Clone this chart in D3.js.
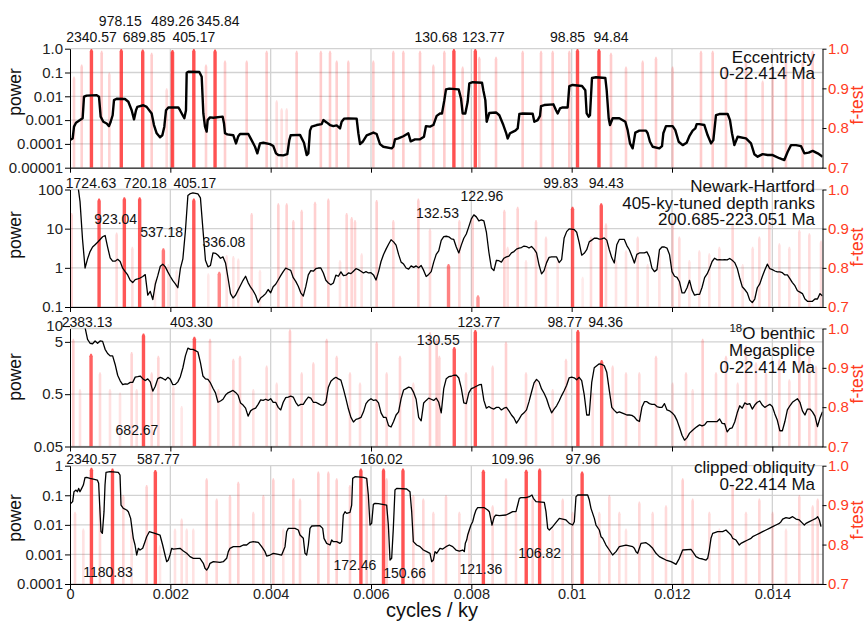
<!DOCTYPE html>
<html>
<head>
<meta charset="utf-8">
<script src="https://cdn.jsdelivr.net/npm/d3@7"></script>
<style>
  body { margin: 0; background: #fff; }
</style>
</head>
<body>
<script>
// ---- data -----------------------------------------------------------------
// frequency axis ticks (cycles / ky)
const freqTicks = [0, 0.002, 0.004, 0.006, 0.008, 0.010, 0.012, 0.014];
const freqTickLabels = ["0", "0.002", "0.004", "0.006", "0.008", "0.01", "0.012", "0.014"];
const ftestTicks = [0.7, 0.8, 0.9, 1.0];
const ftestTickLabels = ["0.7", "0.8", "0.9", "1.0"];

// power axis ticks per panel
const eccTicks = [1e-5, 1e-4, 1e-3, 0.01, 0.1, 1];
const eccTickLabels = ["0.00001", "0.0001", "0.001", "0.01", "0.1", "1.0"];
const nhTicks = [0.1, 1, 10, 100];
const nhTickLabels = ["0.1", "1", "10", "100"];
const o18Ticks = [0.05, 0.5, 5, 10];
const o18TickLabels = ["0.05", "0.5", "5", "10"];
const oblTicks = [1e-4, 1e-3, 0.01, 0.1, 1];
const oblTickLabels = ["0.0001", "0.001", "0.01", "0.1", "1"];

// Eccentricity spectrum [frequency, power]
const eccSpectrum = [
  [0,1.45e-4],[0.000053,1.7e-4],[0.00008,5.3e-4],[0.00012,7.8e-4],[0.000199,1.0e-3],[0.000252,1.2e-3],[0.000279,9.6e-3],[0.000332,1.07e-2],
  [0.000532,1.12e-2],[0.000578,9.6e-3],[0.000611,1.4e-3],[0.000664,8.5e-4],[0.000731,7.2e-4],[0.000777,5.6e-4],[0.000811,8.5e-4],[0.00085,1.6e-3],
  [0.000877,6.9e-3],[0.00093,7.9e-3],[0.001096,7.7e-3],[0.001163,5.9e-3],[0.001229,2.6e-3],[0.001276,1.07e-3],[0.001316,2.6e-3],[0.001342,3.6e-3],
  [0.001462,4.2e-3],[0.001528,3.6e-3],[0.001628,1.9e-3],[0.001674,6.2e-4],[0.001728,2.8e-4],[0.001794,1.9e-4],[0.001841,2.3e-4],[0.00188,5.3e-4],
  [0.001914,2.6e-3],[0.00196,3.4e-3],[0.002159,3.4e-3],[0.002193,2.6e-3],[0.002246,1.6e-3],[0.002279,1.2e-3],[0.002312,2.6e-3],[0.002326,9.8e-2],
  [0.002359,0.107],[0.002578,0.105],[0.002625,0.066],[0.002658,1.9e-3],[0.002691,5.3e-4],[0.002724,3.3e-4],[0.002744,1.0e-3],[0.002791,1.3e-3],
  [0.002857,1.26e-3],[0.003043,1.4e-3],[0.00307,7.2e-4],[0.00309,2.8e-4],[0.003136,2.5e-4],[0.003256,2.3e-4],[0.003309,1.05e-4],[0.003355,2.1e-4],
  [0.003389,2.6e-4],[0.003555,2.6e-4],[0.003601,1.7e-4],[0.003688,7.6e-5],[0.003734,4.0e-5],[0.003787,1.05e-4],[0.003854,1.12e-4],[0.003987,9.8e-5],
  [0.004053,8.1e-5],[0.004106,4.0e-5],[0.004153,3.4e-5],[0.004252,3.3e-5],[0.004332,3.7e-5],[0.004372,1.45e-4],[0.004399,2.3e-4],[0.004585,2.4e-4],
  [0.004664,1.12e-4],[0.004718,3.4e-5],[0.004751,4.0e-5],[0.004784,3.6e-4],[0.004817,5.3e-4],[0.004917,6.2e-4],[0.005017,6.8e-4],[0.00505,1.0e-3],
  [0.005116,8.0e-4],[0.005183,6.2e-4],[0.005249,5.6e-4],[0.005316,6.0e-4],[0.005382,4.5e-4],[0.005415,8.5e-4],[0.005462,1.15e-3],[0.005548,1.17e-3],
  [0.005714,1.15e-3],[0.005748,2.8e-4],[0.005781,9.8e-5],[0.005834,1.23e-4],[0.005914,2.3e-4],[0.006047,3.0e-4],[0.006113,2.6e-4],[0.006179,9.8e-5],
  [0.006246,7.6e-5],[0.006412,6.5e-5],[0.006445,7.6e-5],[0.006478,1.55e-4],[0.006545,1.7e-4],[0.006645,2.1e-4],[0.006744,2.8e-4],[0.006791,1.28e-4],
  [0.006877,1.55e-4],[0.006977,1.55e-4],[0.007056,2.0e-4],[0.007096,5.6e-4],[0.007176,5.3e-4],[0.007243,6.2e-4],[0.007309,1.5e-3],[0.007375,1.9e-3],
  [0.007415,1.9e-3],[0.007462,6.9e-3],[0.007495,1.95e-2],[0.007561,2.1e-2],[0.007748,1.95e-2],[0.007794,8.1e-3],[0.007827,1.9e-3],[0.00788,1.9e-3],
  [0.007927,5.9e-3],[0.00796,3.5e-2],[0.008027,3.9e-2],[0.008213,3.7e-2],[0.008239,1.8e-2],[0.008279,6.9e-3],[0.008306,8.5e-4],[0.008359,2.0e-3],
  [0.008492,2.1e-3],[0.008558,1.6e-3],[0.008638,6.2e-4],[0.008691,3.0e-4],[0.008724,1.7e-4],[0.008771,2.8e-4],[0.008837,3.3e-4],[0.008877,3.6e-4],
  [0.008924,4.5e-4],[0.008957,1.8e-3],[0.009023,1.9e-3],[0.009223,1.85e-3],[0.009256,8.5e-4],[0.009322,1.0e-3],[0.009369,1.5e-3],[0.009389,3.9e-3],
  [0.009455,4.3e-3],[0.009635,4.6e-3],[0.009688,2.6e-3],[0.009721,1.9e-3],[0.009767,3.1e-3],[0.009821,3.4e-3],[0.00992,3.4e-3],[0.009953,2.7e-2],
  [0.01002,3.0e-2],[0.010206,2.7e-2],[0.010272,1.8e-2],[0.010299,1.9e-3],[0.010339,1.4e-3],[0.010365,1.6e-3],[0.010405,5.9e-2],[0.010485,6.3e-2],
  [0.010671,5.9e-2],[0.010698,1.8e-2],[0.010738,1.2e-3],[0.010764,6.2e-4],[0.010817,1.2e-3],[0.01095,1.2e-3],[0.01107,8.5e-4],[0.011116,3.8e-4],
  [0.011163,1.05e-4],[0.011216,6.5e-5],[0.011269,3.0e-4],[0.011349,3.6e-4],[0.011482,3.6e-4],[0.011515,2.8e-4],[0.011561,1.23e-4],[0.011615,7.6e-5],
  [0.011748,6.5e-5],[0.011801,8.1e-5],[0.011827,2.8e-4],[0.01188,5.6e-4],[0.012013,5.6e-4],[0.012066,3.8e-4],[0.012133,1.23e-4],[0.012213,8.9e-5],
  [0.012292,1.12e-4],[0.012346,2.1e-4],[0.012412,3.6e-4],[0.012465,4.5e-4],[0.012492,6.8e-4],[0.012545,6.8e-4],[0.012645,6.2e-4],[0.012711,2.3e-4],
  [0.012778,1.05e-4],[0.012824,1.45e-4],[0.012877,1.6e-3],[0.012944,1.8e-3],[0.01311,1.8e-3],[0.013156,1.0e-3],[0.013196,2.8e-4],[0.013243,8.9e-5],
  [0.013309,2.0e-4],[0.013475,1.7e-4],[0.013575,1.05e-4],[0.013641,3.7e-5],[0.013708,2.9e-5],[0.013807,3.7e-5],[0.013907,3.4e-5],[0.014007,3.4e-5],
  [0.01414,2.5e-5],[0.014239,2.1e-5],[0.014306,4.7e-5],[0.014372,8.9e-5],[0.014472,8.9e-5],[0.014571,8.1e-5],[0.014638,4.0e-5],[0.014724,4.3e-5],
  [0.014804,5.1e-5],[0.014904,4.0e-5],[0.015003,2.9e-5]
];

// regular frequency grid of the Newark-Hartford and 18O spectra (cycles / ky)
const freqGrid = [
  0.00015,0.0002,0.00025,0.0003,0.00035,0.0004,0.00045,0.0005,0.00055,0.0006,
  0.00065,0.0007,0.00075,0.0008,0.00085,0.0009,0.00095,0.001,0.00105,0.0011,
  0.00115,0.0012,0.00125,0.0013,0.00135,0.0014,0.00145,0.0015,0.00155,0.0016,
  0.00165,0.0017,0.00175,0.0018,0.00185,0.0019,0.00195,0.002,0.00205,0.0021,
  0.00215,0.0022,0.00225,0.0023,0.00235,0.0024,0.00245,0.0025,0.00255,0.0026,
  0.00265,0.0027,0.00275,0.0028,0.00285,0.0029,0.00295,0.003,0.00305,0.0031,
  0.00315,0.0032,0.00325,0.0033,0.00335,0.0034,0.00345,0.0035,0.00355,0.0036,
  0.00365,0.0037,0.00375,0.0038,0.00385,0.0039,0.00395,0.004,0.00405,0.0041,
  0.00415,0.0042,0.00425,0.0043,0.00435,0.0044,0.00445,0.0045,0.00455,0.0046,
  0.00465,0.0047,0.00475,0.0048,0.00485,0.0049,0.00495,0.005,0.00505,0.0051,
  0.00515,0.0052,0.00525,0.0053,0.00535,0.0054,0.00545,0.0055,0.00555,0.0056,
  0.00565,0.0057,0.00575,0.0058,0.00585,0.0059,0.00595,0.006,0.00605,0.0061,
  0.00615,0.0062,0.00625,0.0063,0.00635,0.0064,0.00645,0.0065,0.00655,0.0066,
  0.00665,0.0067,0.00675,0.0068,0.00685,0.0069,0.00695,0.007,0.00705,0.0071,
  0.00715,0.0072,0.00725,0.0073,0.00735,0.0074,0.00745,0.0075,0.00755,0.0076,
  0.00765,0.0077,0.00775,0.0078,0.00785,0.0079,0.00795,0.008,0.00805,0.0081,
  0.00815,0.0082,0.00825,0.0083,0.00835,0.0084,0.00845,0.0085,0.00855,0.0086,
  0.00865,0.0087,0.00875,0.0088,0.00885,0.0089,0.00895,0.009,0.00905,0.0091,
  0.00915,0.0092,0.00925,0.0093,0.00935,0.0094,0.00945,0.0095,0.00955,0.0096,
  0.00965,0.0097,0.00975,0.0098,0.00985,0.0099,0.00995,0.01,0.01005,0.0101,
  0.01015,0.0102,0.01025,0.0103,0.01035,0.0104,0.01045,0.0105,0.01055,0.0106,
  0.01065,0.0107,0.01075,0.0108,0.01085,0.0109,0.01095,0.011,0.01105,0.0111,
  0.01115,0.0112,0.01125,0.0113,0.01135,0.0114,0.01145,0.0115,0.01155,0.0116,
  0.01165,0.0117,0.01175,0.0118,0.01185,0.0119,0.01195,0.012,0.01205,0.0121,
  0.01215,0.0122,0.01225,0.0123,0.01235,0.0124,0.01245,0.0125,0.01255,0.0126,
  0.01265,0.0127,0.01275,0.0128,0.01285,0.0129,0.01295,0.013,0.01305,0.0131,
  0.01315,0.0132,0.01325,0.0133,0.01335,0.0134,0.01345,0.0135,0.01355,0.0136,
  0.01365,0.0137,0.01375,0.0138,0.01385,0.0139,0.01395,0.014,0.01405,0.0141,
  0.01415,0.0142,0.01425,0.0143,0.01435,0.0144,0.01445,0.0145,0.01455,0.0146,
  0.01465,0.0147,0.01475,0.0148,0.01485,0.0149,0.01495,0.015
];

// Newark-Hartford power on freqGrid (from 0.00015)
const nhPower = [
  150,49,5.3,0.99,1.7,2.6,3.4,3.9,4.5,5.3,
  6.2,6.7,3.4,1.8,1.48,1.48,1.65,1.45,0.98,0.8,
  0.66,0.48,0.42,0.5,0.52,0.55,0.6,0.67,0.2,0.25,
  0.155,0.38,0.63,1.1,1.24,1.06,0.79,0.6,0.47,0.39,
  0.31,0.95,1.7,8.6,70,79,82,80,77,61,
  9.5,1.56,1.06,1.15,2.4,2.35,2.1,1.76,1.9,1.33,
  0.55,0.22,0.17,0.2,0.27,0.36,0.48,0.61,0.42,0.32,
  0.26,0.2,0.13,0.17,0.19,0.22,0.28,0.23,0.33,0.38,
  0.49,0.63,0.8,0.98,0.92,0.86,0.56,0.45,0.34,0.23,
  0.19,0.33,0.66,0.85,0.82,0.95,0.99,0.99,0.74,0.48,
  0.41,0.37,0.41,0.65,0.61,0.79,0.63,0.65,0.74,0.71,
  0.82,0.95,0.9,0.82,0.74,0.8,0.74,0.75,0.66,0.49,
  0.79,1.45,2.2,3.0,4.0,5.2,4.6,3.8,2.2,1.4,
  1.25,0.99,0.93,1.12,1.03,1.12,1.0,1.15,0.86,0.6,
  0.68,0.8,1.4,2.2,2.7,5.0,6.3,6.4,6.2,5.5,
  5.3,3.4,2.4,3.8,5.7,7.3,11.3,17.8,22.5,20,
  15.8,16.7,15.8,8.2,2.5,0.99,0.85,1.56,1.52,1.4,
  1.76,1.9,2.0,2.4,2.6,3.0,3.2,3.3,3.6,3.5,
  3.2,3.5,3.0,2.4,1.18,0.7,0.85,1.36,1.85,1.9,
  1.9,1.9,1.36,1.62,5.8,8.4,9.9,9.7,9.5,8.1,
  4.4,2.1,2.35,2.9,4.6,5.1,5.7,5.7,5.4,5.5,
  5.8,5.1,2.9,1.8,1.33,3.9,5.3,5.3,5.3,3.7,
  2.9,2.0,1.33,2.2,2.4,2.4,2.4,2.55,1.9,0.98,
  0.8,0.9,2.9,3.4,3.4,3.2,2.2,0.8,0.61,0.57,
  0.44,0.23,0.23,0.31,0.48,0.27,0.2,0.21,0.21,0.32,
  0.56,0.7,0.98,1.45,1.76,1.6,1.62,1.6,1.62,1.6,
  1.73,1.56,1.36,0.98,0.55,0.33,0.28,0.23,0.15,0.13,
  0.16,0.31,0.39,0.6,0.88,1.24,0.95,0.9,0.83,0.79,
  0.79,0.75,0.66,0.66,0.53,0.42,0.35,0.26,0.24,0.22,
  0.16,0.14,0.14,0.14,0.16,0.16,0.22,0.19
];

// 18O benthic megasplice power on freqGrid (from 0.0003)
const o18Power = [
  9.4,5.6,4.7,4.6,5.2,4.7,5.2,5.1,3.6,3.0,
  2.7,2.7,1.85,1.15,0.9,0.76,0.79,0.78,0.84,0.84,
  1.06,1.08,1.11,0.99,0.91,0.98,0.86,0.57,0.71,0.99,
  1.05,1.0,0.93,1.05,0.96,0.76,0.77,0.86,1.08,1.6,
  2.7,3.8,3.6,3.6,3.4,3.2,2.0,1.11,0.98,0.96,
  0.82,0.65,0.53,0.35,0.37,0.4,0.48,0.53,0.56,0.59,
  0.54,0.48,0.34,0.31,0.27,0.19,0.24,0.26,0.27,0.32,
  0.39,0.38,0.4,0.38,0.41,0.35,0.35,0.28,0.25,0.35,
  0.43,0.44,0.46,0.44,0.35,0.3,0.32,0.32,0.38,0.44,
  0.42,0.35,0.35,0.33,0.31,0.31,0.35,0.68,0.88,0.98,
  1.05,0.98,0.93,0.63,0.41,0.26,0.18,0.147,0.165,0.17,
  0.18,0.23,0.33,0.38,0.41,0.38,0.39,0.34,0.22,0.18,
  0.18,0.125,0.118,0.15,0.2,0.23,0.41,0.6,0.64,0.68,
  0.66,0.54,0.4,0.18,0.155,0.34,0.38,0.42,0.4,0.38,
  0.42,0.35,0.22,0.64,0.99,1.08,1.1,1.15,1.16,1.02,
  0.65,0.34,0.33,0.53,0.64,0.67,0.71,0.75,0.77,0.38,
  0.27,0.29,0.27,0.26,0.28,0.28,0.25,0.27,0.28,0.24,
  0.2,0.175,0.14,0.165,0.2,0.22,0.25,0.36,0.55,0.82,
  0.96,0.86,0.63,0.52,0.41,0.29,0.22,0.26,0.3,0.37,
  0.47,0.58,0.74,1.03,1.06,1.03,0.94,1.05,0.91,0.49,
  0.2,0.2,0.84,1.6,1.75,1.9,1.85,1.75,1.31,0.59,
  0.28,0.245,0.22,0.23,0.22,0.21,0.2,0.2,0.197,0.183,
  0.16,0.15,0.28,0.36,0.36,0.33,0.32,0.32,0.29,0.28,
  0.28,0.33,0.25,0.24,0.22,0.197,0.158,0.115,0.082,0.066,
  0.074,0.09,0.1,0.11,0.12,0.13,0.124,0.13,0.15,0.15,
  0.15,0.15,0.15,0.168,0.138,0.136,0.095,0.11,0.114,0.147,
  0.22,0.3,0.27,0.34,0.32,0.33,0.26,0.31,0.35,0.37,
  0.31,0.28,0.3,0.32,0.29,0.21,0.158,0.1,0.1,0.15,
  0.25,0.3,0.35,0.38,0.41,0.35,0.24,0.2,0.26,0.26,
  0.23,0.19,0.12,0.175,0.23
];

// clipped obliquity spectrum [frequency, power]
const oblSpectrum = [
  [0.000013,0.053],[0.000053,0.061],[0.00008,0.132],[0.00012,0.15],[0.000146,0.132],[0.000173,0.171],[0.000199,0.132],[0.000233,0.171],
  [0.000266,0.222],[0.000299,0.393],[0.000332,0.403],[0.000399,0.373],[0.000465,0.354],[0.000545,0.328],[0.000571,0.253],[0.000598,0.0279],
  [0.000618,0.00587],[0.000645,0.00516],[0.000678,0.0279],[0.000698,0.222],[0.000718,0.595],[0.000797,0.627],[0.000963,0.595],[0.000997,0.484],
  [0.001017,0.0468],[0.001063,0.0361],[0.00113,0.0317],[0.001163,0.0279],[0.001209,0.0166],[0.001262,0.0035],[0.001296,0.00208],[0.001329,0.000955],
  [0.001362,0.00161],[0.001395,0.00141],[0.001449,0.00161],[0.001495,0.0027],[0.001528,0.00398],[0.001581,0.00587],[0.001628,0.00557],[0.001694,0.00516],
  [0.001794,0.00453],[0.001847,0.00208],[0.001894,0.000955],[0.001927,0.000569],[0.00196,0.000647],[0.001993,0.000955],[0.002027,0.00161],[0.00206,0.00152],
  [0.002193,0.00161],[0.002259,0.0013],[0.002326,0.00109],[0.002392,0.00084],[0.002458,0.000738],[0.002591,0.000738],[0.002658,0.0005],[0.002691,0.000339],
  [0.002724,0.000297],[0.002757,0.000356],[0.002791,0.0005],[0.002857,0.000569],[0.00299,0.00054],[0.003056,0.000569],[0.003123,0.000738],[0.003156,0.00124],
  [0.003189,0.00161],[0.003256,0.00183],[0.003389,0.00183],[0.003455,0.00208],[0.003522,0.00208],[0.003588,0.00256],[0.003654,0.0027],[0.003754,0.00256],
  [0.003821,0.00183],[0.003887,0.00124],[0.00392,0.000884],[0.003987,0.000955],[0.004053,0.00109],[0.004153,0.00101],[0.004219,0.000955],[0.004286,0.00183],
  [0.004319,0.00587],[0.004352,0.00762],[0.004485,0.00762],[0.004551,0.00669],[0.004585,0.00453],[0.004651,0.0035],[0.004684,0.00109],[0.004718,0.000955],
  [0.004751,0.00208],[0.004784,0.00762],[0.004817,0.00914],[0.004983,0.00937],[0.005037,0.00762],[0.005063,0.0035],[0.005116,0.00237],[0.005183,0.00208],
  [0.005216,0.00307],[0.005249,0.0027],[0.005316,0.0027],[0.005382,0.00237],[0.005415,0.0027],[0.005448,0.0215],[0.005482,0.0279],[0.005515,0.0245],
  [0.005581,0.0265],[0.005615,0.0468],[0.005635,0.373],[0.005681,0.425],[0.005847,0.403],[0.005914,0.373],[0.005947,0.102],[0.00598,0.00987],
  [0.006013,0.0112],[0.006047,0.0493],[0.00608,0.0533],[0.006146,0.0519],[0.006312,0.0468],[0.006346,0.00987],[0.006379,0.000647],[0.006412,0.000738],
  [0.006445,0.00762],[0.006478,0.15],[0.006512,0.171],[0.006711,0.163],[0.006777,0.132],[0.006811,0.0279],[0.006844,0.0027],[0.00691,0.00208],
  [0.006977,0.00183],[0.007043,0.00141],[0.00711,0.00124],[0.007176,0.00109],[0.007209,0.000569],[0.007243,0.000647],[0.007276,0.00124],[0.007309,0.00109],
  [0.007375,0.00161],[0.007429,0.00152],[0.007495,0.00183],[0.007561,0.00208],[0.007628,0.00183],[0.007694,0.00141],[0.007761,0.0013],[0.007827,0.00141],
  [0.00786,0.00124],[0.00788,0.00237],[0.007907,0.00307],[0.007927,0.00453],[0.00796,0.00669],[0.007993,0.00987],[0.008027,0.0128],[0.00806,0.0215],
  [0.008093,0.0317],[0.008126,0.038],[0.008259,0.038],[0.008326,0.0317],[0.008359,0.0279],[0.008412,0.00987],[0.008458,0.0189],[0.008492,0.0215],
  [0.008558,0.0204],[0.008691,0.0215],[0.008758,0.0245],[0.008824,0.0279],[0.00889,0.0279],[0.008924,0.0468],[0.008957,0.0787],[0.00899,0.0828],
  [0.00909,0.0828],[0.009156,0.0895],[0.009209,0.102],[0.009236,0.0787],[0.009289,0.0607],[0.009455,0.0577],[0.009488,0.0279],[0.009522,0.00762],
  [0.009555,0.00669],[0.009621,0.00867],[0.009754,0.0166],[0.009821,0.0157],[0.009887,0.0146],[0.009953,0.0112],[0.01002,0.00987],[0.010053,0.0128],
  [0.010086,0.0895],[0.01012,0.102],[0.010319,0.102],[0.010352,0.069],[0.010385,0.0361],[0.010452,0.0166],[0.010485,0.00987],[0.010551,0.00669],
  [0.010585,0.00398],[0.010618,0.0035],[0.010684,0.00208],[0.010751,0.00141],[0.010817,0.000955],[0.010884,0.00124],[0.01095,0.00183],[0.011083,0.00208],
  [0.011216,0.00183],[0.011249,0.00161],[0.011282,0.00124],[0.011316,0.00109],[0.011349,0.00161],[0.011382,0.00237],[0.011482,0.00249],[0.011548,0.00208],
  [0.011615,0.00161],[0.011681,0.00109],[0.011748,0.00084],[0.011814,0.000738],[0.01188,0.000647],[0.01198,0.000569],[0.012047,0.0005],[0.01208,0.000462],
  [0.012146,0.000738],[0.012213,0.00141],[0.012379,0.00149],[0.012412,0.00124],[0.012479,0.00084],[0.012545,0.000738],[0.012611,0.0007],[0.012678,0.000647],
  [0.012711,0.000738],[0.012744,0.00141],[0.012777,0.0035],[0.012811,0.00516],[0.01291,0.00587],[0.01301,0.00587],[0.013076,0.00669],[0.01311,0.00587],
  [0.013143,0.00516],[0.013176,0.00453],[0.013209,0.0035],[0.013276,0.00307],[0.013342,0.00208],[0.013375,0.00237],[0.013442,0.0027],[0.013508,0.00307],
  [0.013575,0.0035],[0.013608,0.00398],[0.013674,0.00453],[0.013741,0.00516],[0.013807,0.00587],[0.013874,0.00669],[0.01394,0.00762],[0.014007,0.00867],
  [0.014073,0.00987],[0.01414,0.0112],[0.014173,0.0128],[0.014206,0.0157],[0.014272,0.0175],[0.014339,0.0166],[0.014405,0.0189],[0.014472,0.0157],
  [0.014538,0.0146],[0.014605,0.0112],[0.014638,0.00987],[0.014671,0.0112],[0.014738,0.0128],[0.014804,0.0146],[0.01487,0.0166],[0.014904,0.0189],
  [0.014937,0.0146],[0.01497,0.00867]
];

// f-test spikes [frequency, f-test]
const eccFtest = [
  [0.00008,0.93],[0.000233,0.96],[0.000631,0.995],[0.000784,0.94],[0.001628,0.99],[0.001927,0.9],[0.002027,0.995],[0.002711,0.96],
  [0.00309,0.97],[0.003522,0.97],[0.00392,0.995],[0.00412,0.87],[0.004219,0.85],[0.004319,0.85],[0.004518,0.995],[0.005,0.995],
  [0.005183,0.995],[0.005316,0.97],[0.005548,0.97],[0.006047,0.97],[0.006445,0.995],[0.006645,0.995],[0.006977,0.995],[0.007243,0.96],
  [0.007462,0.995],[0.007827,0.955],[0.008159,0.98],[0.008492,0.98],[0.009023,0.995],[0.009389,0.995],[0.009621,0.995],[0.009953,0.995],
  [0.010784,0.99],[0.011083,0.955],[0.011415,0.97],[0.011681,0.98],[0.012013,0.955],[0.012578,0.995],[0.012811,0.995],[0.013076,0.955],
  [0.013475,0.97],[0.013807,0.92],[0.014007,0.955],[0.014272,0.98],[0.014605,0.97],[0.014804,0.995]
];
const nhFtest = [
  [0.000033,0.94],[0.00093,0.89],[0.001243,0.854],[0.001694,0.77],[0.00196,0.81],[0.002126,0.795],[0.002757,0.786],[0.003123,0.833],
  [0.003256,0.83],[0.003355,0.824],[0.003621,0.94],[0.003787,0.795],[0.004153,0.965],[0.004319,0.965],[0.004452,0.922],[0.004618,0.948],
  [0.004884,0.969],[0.00515,0.977],[0.005382,0.82],[0.005515,0.94],[0.005615,0.93],[0.005681,0.922],[0.005814,0.837],[0.006113,0.973],
  [0.006445,0.922],[0.006944,0.977],[0.007176,0.9],[0.007761,0.922],[0.008027,0.931],[0.008658,0.948],[0.008724,0.854],[0.008924,0.956],
  [0.00909,0.82],[0.009289,0.922],[0.009488,0.88],[0.009721,0.82],[0.010219,0.777],[0.010385,0.88],[0.010684,0.914],[0.010884,0.82],
  [0.011083,0.845],[0.011316,0.88],[0.011515,0.81],[0.011748,0.84],[0.012013,0.922],[0.012146,0.88],[0.012346,0.82],[0.012545,0.845],
  [0.012744,0.837],[0.012944,0.854],[0.013209,0.914],[0.013409,0.81],[0.013608,0.854],[0.013741,0.88],[0.01394,0.922],[0.01414,0.863],
  [0.014339,0.854],[0.014538,0.897],[0.014738,0.888],[0.01497,0.87]
];
const o18Ftest = [
  [0.000066,0.974],[0.000199,0.846],[0.000598,0.889],[0.000797,0.846],[0.000997,0.837],[0.001229,0.94],[0.001329,0.846],[0.001628,0.889],
  [0.001761,0.931],[0.00206,0.854],[0.002226,0.803],[0.002791,0.974],[0.002957,0.846],[0.003256,0.923],[0.003389,0.931],[0.003654,0.846],
  [0.00392,0.906],[0.00412,0.863],[0.004385,0.998],[0.004618,0.889],[0.004851,0.914],[0.005116,0.974],[0.005316,0.931],[0.005581,0.889],
  [0.005781,0.863],[0.006113,0.966],[0.006312,0.889],[0.006578,0.931],[0.006844,0.863],[0.007176,0.991],[0.007309,0.974],[0.007362,0.931],
  [0.007894,0.889],[0.008425,0.906],[0.008691,0.966],[0.00909,0.889],[0.009289,0.871],[0.009621,0.846],[0.009887,0.923],[0.010419,0.837],
  [0.010817,0.906],[0.011083,0.889],[0.011349,0.889],[0.011681,0.931],[0.012013,0.863],[0.012279,0.889],[0.012412,0.846],[0.012611,0.974],
  [0.012877,0.889],[0.013076,0.931],[0.013309,0.863],[0.013475,0.957],[0.013674,0.914],[0.013874,0.889],[0.01414,0.923],[0.014339,0.871],
  [0.014538,0.991],[0.014738,0.931],[0.01487,0.906]
];
const oblFtest = [
  [0.0001,0.883],[0.000266,0.841],[0.000598,0.9],[0.001063,0.926],[0.001229,0.841],[0.001528,0.951],[0.001794,0.799],[0.002093,0.841],
  [0.002226,0.866],[0.002326,0.841],[0.002458,0.841],[0.002724,0.968],[0.002924,0.917],[0.003189,0.926],[0.003355,0.959],[0.003654,0.883],
  [0.003854,0.926],[0.004053,0.968],[0.004252,0.841],[0.004452,0.968],[0.004585,0.917],[0.00495,0.985],[0.00515,0.985],[0.005316,0.968],
  [0.005581,0.951],[0.005914,0.968],[0.006312,0.968],[0.006844,0.926],[0.007043,0.917],[0.007243,0.883],[0.007495,0.926],[0.007761,0.883],
  [0.00796,0.841],[0.008425,0.9],[0.008691,0.968],[0.00889,0.883],[0.009223,0.917],[0.009621,0.841],[0.009821,0.917],[0.01002,0.883],
  [0.010551,0.883],[0.010751,0.926],[0.01095,0.883],[0.011083,0.841],[0.011349,0.909],[0.011615,0.883],[0.01188,0.9],[0.012213,0.968],
  [0.012412,0.917],[0.012744,0.883],[0.012944,0.841],[0.013209,0.951],[0.013475,0.883],[0.013741,0.917],[0.014007,0.883],[0.014272,0.841],
  [0.014538,0.926],[0.014804,0.9],[0.014904,0.917]
];

// significant peaks: period (ky) and its f-test value
const eccPeriods = ["2340.57","978.15","689.85","489.26","405.17","345.84","130.68","123.77","98.85","94.84"];
const eccPeakFtest = [0.999,0.999,0.998,0.997,0.999,0.998,0.999,0.999,0.999,0.999];
const nhPeriods = ["1724.63","923.04","720.18","537.18","405.17","336.08","132.53","122.96","99.83","94.43"];
const nhPeakFtest = [0.977,0.98,0.98,0.85,0.977,0.79,0.81,0.73,0.956,0.965];
const o18Periods = ["2383.13","682.67","403.30","130.55","123.77","98.77","94.36"];
const o18PeakFtest = [0.936,0.987,0.979,0.953,0.996,0.996,0.92];
const oblPeriods = ["2340.57","1180.83","587.77","172.46","160.02","150.66","121.36","109.96","106.82","97.96"];
const oblPeakFtest = [0.995,0.993,0.989,0.993,0.993,0.993,0.99,0.99,0.993,0.985];

// ---- layout ---------------------------------------------------------------
const FONT = '"Liberation Sans", Arial, Helvetica, sans-serif';
const RED = "#ff3b1e";
const W = 866, H = 621;
const x = d3.scaleLinear().domain([0, 0.015]).range([70, 822.5]);

const panels = [
  { top: 48.7, bottom: 167.7, domain: [1e-5, 1], ticks: eccTicks, tickLabels: eccTickLabels,
    spectrum: eccSpectrum, lw: 2.4, ftest: eccFtest, periods: eccPeriods, peakF: eccPeakFtest,
    labelPos: [[0,41.7],[-1,25.5],[1.5,41.7],[0,25.5],[0,41.7],[3,25.5],[-18,41.7],[8,41.7],[-10,41.7],[12,41.7]],
    title: ["Eccentricty", "0-22.414 Ma"], titleY: [62.7, 79], powerY: 92, ftestY: 105 },
  { top: 189.5, bottom: 307, domain: [0.1, 100], ticks: nhTicks, tickLabels: nhTickLabels,
    spectrum: d3.zip(freqGrid, nhPower), lw: 1.3, ftest: nhFtest, periods: nhPeriods, peakF: nhPeakFtest,
    labelPos: [[-8,187.7],[-8.6,224],[5.6,187.7],[-1.7,237.3],[1,187.7],[4.7,246.7],[-11,218.3],[4,201],[-11.7,188.3],[5,188.3]],
    title: ["Newark-Hartford", "405-ky-tuned depth ranks", "200.685-223.051 Ma"], titleY: [191.7, 208.5, 225.3], powerY: 235, ftestY: 247 },
  { top: 328.5, bottom: 446.5, domain: [0.05, 9], ticks: o18Ticks, tickLabels: o18TickLabels,
    spectrum: d3.zip(freqGrid.slice(freqGrid.length - o18Power.length), o18Power), lw: 1.3,
    ftest: o18Ftest, periods: o18Periods, peakF: o18PeakFtest,
    labelPos: [[-4,327.3],[-6.5,435],[-3,327.3],[-16,345],[3.6,327.3],[-13,327.3],[4,327.3]],
    title: ["O benthic", "Megasplice", "0-22.414 Ma"], titleY: [338.5, 355.7, 372.8], powerY: 377, ftestY: 384, sup: "18" },
  { top: 465.7, bottom: 584, domain: [1e-4, 1], ticks: oblTicks, tickLabels: oblTickLabels,
    spectrum: oblSpectrum, lw: 1.3, ftest: oblFtest, periods: oblPeriods, peakF: oblPeakFtest,
    labelPos: [[0,464],[-4.5,576.7],[3,464],[-6,570],[-2,464],[1.7,578.3],[-2.5,574],[-13.6,464],[0,558.3],[1,464]],
    title: ["clipped obliquity", "0-22.414 Ma"], titleY: [472.5, 489.5], powerY: 518, ftestY: 520, xLabels: true }
];

const svg = d3.select("body").append("svg")
  .attr("width", W).attr("height", H)
  .style("font-family", FONT);

// thin bar from the panel bottom up to the f-test value, slightly rounded top
function spike(f, v, w, ft, yb) {
  const xc = x(f), yt = ft(v), h = w / 2;
  return `M${xc - h},${yb}L${xc - h},${yt + 2.5}L${xc - h * 0.4},${yt}L${xc + h * 0.4},${yt}L${xc + h},${yt + 2.5}L${xc + h},${yb}Z`;
}

panels.forEach((p, pi) => {
  const y = d3.scaleLog().domain(p.domain).range([p.bottom, p.top]);
  const ft = d3.scaleLinear().domain([0.7, 1]).range([p.bottom, p.top]);
  const g = svg.append("g");

  const clipId = "clip" + pi;
  svg.append("clipPath").attr("id", clipId)
    .append("rect").attr("x", x(0)).attr("y", p.top)
    .attr("width", x(0.015) - x(0)).attr("height", p.bottom - p.top);

  // grid
  const grid = g.append("g").attr("stroke", "#d2d2d2").attr("stroke-width", 1.3);
  grid.selectAll("line.h").data(p.ticks).join("line").attr("class", "h")
    .attr("x1", x(0)).attr("x2", x(0.015))
    .attr("y1", d => Math.max(p.top, y(d))).attr("y2", d => Math.max(p.top, y(d)));
  grid.selectAll("line.v").data(freqTicks.filter(d => d > 0)).join("line").attr("class", "v")
    .attr("y1", p.top).attr("y2", p.bottom)
    .attr("x1", d => x(d)).attr("x2", d => x(d));

  const body = g.append("g").attr("clip-path", `url(#${clipId})`);

  // faint f-test bars
  body.append("g").selectAll("path").data(p.ftest).join("path")
    .attr("d", d => spike(d[0], d[1], 2.6, ft, p.bottom))
    .attr("fill", "#ff3030")
    .attr("fill-opacity", d => Math.max(0.07, 0.08 + 0.17 * (d[1] - 0.75) / 0.25));

  // significant bars
  body.append("g").selectAll("path").data(p.periods).join("path")
    .attr("d", (d, i) => spike(1 / +d, p.peakF[i], 3.4, ft, p.bottom))
    .attr("fill", "#ff2626")
    .attr("fill-opacity", (d, i) => 0.45 + 0.35 * (p.peakF[i] - 0.7) / 0.3);

  // spectrum
  body.append("path").datum(p.spectrum)
    .attr("fill", "none").attr("stroke", "#000")
    .attr("stroke-width", p.lw).attr("stroke-linejoin", "round")
    .attr("d", d3.line().x(d => x(d[0])).y(d => y(d[1])));

  // axes
  const left = g.append("g").attr("transform", `translate(${x(0)},0)`)
    .call(d3.axisLeft(y).tickValues(p.ticks).tickFormat((d, i) => p.tickLabels[i])
      .tickSize(5).tickSizeOuter(0).tickPadding(2));
  left.attr("font-family", FONT).attr("font-size", 15);
  left.selectAll("text").attr("fill", "#222");

  const right = g.append("g").attr("transform", `translate(${x(0.015)},0)`)
    .call(d3.axisRight(ft).tickValues(ftestTicks).tickFormat((d, i) => ftestTickLabels[i])
      .tickSize(4).tickSizeOuter(0).tickPadding(1.5));
  right.attr("font-family", FONT).attr("font-size", 15);
  right.selectAll("text").attr("fill", RED);

  const bottom = g.append("g").attr("transform", `translate(0,${p.bottom})`)
    .call(d3.axisBottom(x).tickValues(freqTicks)
      .tickFormat((d, i) => p.xLabels ? freqTickLabels[i] : "")
      .tickSize(5).tickSizeOuter(0).tickPadding(0));
  bottom.attr("font-family", FONT).attr("font-size", 14.5);
  bottom.selectAll("text").attr("fill", "#222");

  // period labels
  g.append("g").selectAll("text").data(p.periods).join("text")
    .attr("x", (d, i) => x(1 / +d) + p.labelPos[i][0])
    .attr("y", (d, i) => p.labelPos[i][1])
    .attr("text-anchor", "middle").attr("font-size", 14).attr("fill", "#111")
    .text(d => d);

  // panel title
  const title = g.append("g").attr("font-size", 17).attr("fill", "#111").attr("text-anchor", "end");
  p.title.forEach((t, i) => {
    const tx = title.append("text").attr("x", 815).attr("y", p.titleY[i]);
    if (i === 0 && p.sup) {
      tx.append("tspan").attr("font-size", 11.5).attr("dy", -7).text(p.sup);
      tx.append("tspan").attr("dy", 7).text(t);
    } else {
      tx.text(t);
    }
  });

  // axis titles
  g.append("text").attr("transform", `translate(21,${p.powerY}) rotate(-90)`)
    .attr("text-anchor", "middle").attr("font-size", 17.5).attr("fill", "#111").text("power");
  g.append("text").attr("transform", `translate(862.5,${p.ftestY}) rotate(-90)`)
    .attr("text-anchor", "middle").attr("font-size", 17.5).attr("fill", RED).text("f-test");
});

svg.append("text").attr("x", 432).attr("y", 616.5)
  .attr("text-anchor", "middle").attr("font-size", 20).attr("fill", "#111")
  .text("cycles / ky");
</script>
</body>
</html>
